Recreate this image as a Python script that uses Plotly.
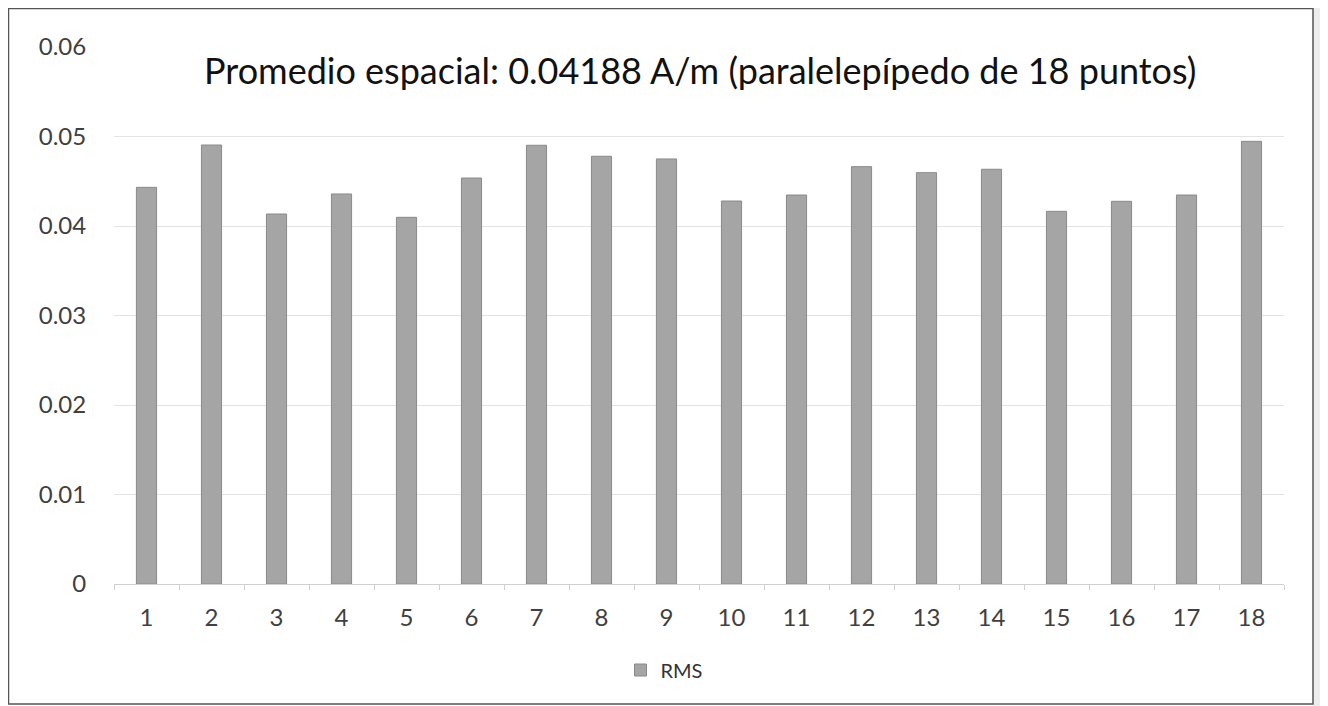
import plotly.graph_objects as go

categories = [str(i) for i in range(1, 19)]
rms = [0.04432, 0.04905, 0.04134, 0.04358, 0.04097, 0.04536, 0.04902, 0.04779, 0.04749,
       0.04279, 0.04346, 0.04663, 0.04596, 0.04634, 0.04164, 0.04276, 0.04346, 0.04946]
y_ticks = [0, 0.01, 0.02, 0.03, 0.04, 0.05, 0.06]
y_labels = ["0", "0.01", "0.02", "0.03", "0.04", "0.05", "0.06"]
title_text = "Promedio espacial: 0.04188 A/m (paralelepípedo de 18 puntos)"

FONT = "Lato"
OFF = 8  # page body margin offset
W, H = 1328 - OFF, 706 - OFF
# desired screen-pixel plot area: x 114..1284, y 47..584
L, T = 114 - OFF, 47 - OFF
R, B = 1328 - 1284, 706 - 584
pw, ph = W - L - R, H - T - B

def px(x):
    return (x - OFF - L) / pw

def py(y):
    return (H - B - (y - OFF)) / ph

fig = go.Figure()
fig.add_trace(go.Bar(
    x=categories, y=rms, name="RMS",
    marker=dict(color="#a5a5a5", line=dict(color="#8a8a8a", width=1)),
))

fig.update_layout(
    width=W, height=H,
    margin=dict(l=L, r=R, t=T, b=B),
    paper_bgcolor="white", plot_bgcolor="white",
    bargap=0.69,
    showlegend=True,
    legend=dict(orientation="h", x=px(664), xanchor="center", y=py(670), yanchor="middle",
                font=dict(family=FONT, size=20, color="#333333"), itemwidth=30),
    font=dict(family=FONT, color="#404040"),
)
fig.update_xaxes(
    type="category", showgrid=False, showline=True, linecolor="#d0d0d0", linewidth=1,
    ticks="outside", tickson="boundaries", ticklen=5, tickcolor="#d0d0d0",
    tickfont=dict(family=FONT, size=24, color="#404040"), ticklabelstandoff=12,
)
fig.update_yaxes(
    range=[0, 0.06], tickvals=y_ticks, ticktext=y_labels,
    showgrid=True, gridcolor="#e3e3e3", gridwidth=1, zeroline=False, showline=False,
    ticks="outside", ticklen=22, tickcolor="rgba(0,0,0,0)",
    tickfont=dict(family=FONT, size=24, color="#404040"),
)
fig.add_annotation(
    text=title_text, xref="paper", yref="paper", x=px(700), y=py(70),
    xanchor="center", yanchor="middle", showarrow=False,
    font=dict(family=FONT, size=36, color="#111111"),
)
fig.add_shape(
    type="rect", xref="paper", yref="paper",
    x0=px(1313), x1=px(1328), y0=py(706), y1=py(8),
    line=dict(width=0), fillcolor="#ededed", layer="below",
)
fig.add_shape(
    type="rect", xref="paper", yref="paper",
    x0=px(8.5), x1=px(1313), y0=py(704), y1=py(8.5),
    line=dict(color="#555555", width=1.5), fillcolor="rgba(0,0,0,0)", layer="below",
)
fig.write_html("out.html")
